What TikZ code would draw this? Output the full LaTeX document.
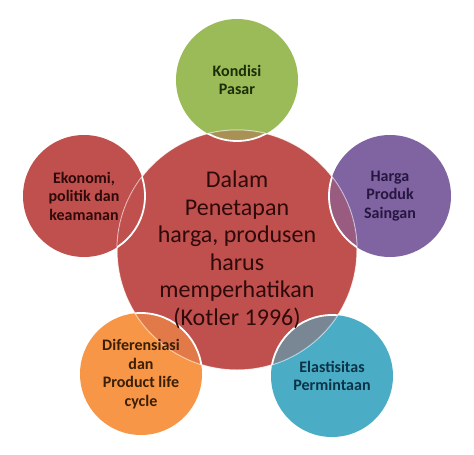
\documentclass[tikz,border=0pt]{standalone}
\usepackage{fontspec}
\setmainfont{Carlito}
\usetikzlibrary{positioning}
\pgfdeclarelayer{background}
\pgfsetlayers{background,main}

\definecolor{hubred}{HTML}{C0504D}
\definecolor{leafgreen}{HTML}{9BBB59}
\definecolor{leafpurple}{HTML}{8064A2}
\definecolor{leafblue}{HTML}{4BACC6}
\definecolor{leaforange}{HTML}{F79646}
\definecolor{hubtext}{HTML}{2E0A0A}
\definecolor{greentext}{HTML}{1C2E08}
\definecolor{purpletext}{HTML}{261640}
\definecolor{bluetext}{HTML}{0C3346}
\definecolor{orangetext}{HTML}{3A1E05}

\begin{document}
\begin{tikzpicture}[x=1pt,y=-1pt,on grid,node distance=170pt,
    hub/.style={circle,minimum size=240pt,inner sep=0pt,align=center,
      font=\fontsize{24}{27.5}\selectfont,text=hubtext},
    leaf/.style={circle,minimum size=122pt,inner sep=0pt,align=center,
      font=\bfseries\fontsize{16}{18.5}\selectfont}]
   \useasboundingbox (0,0) rectangle (474,455);
   \node[hub] (s_0) at (237,250) {Dalam\\Penetapan\\harga, produsen\\harus\\memperhatikan\\(Kotler 1996)};
   \node[leaf,text=greentext] (s_1) [above=of s_0] {Kondisi\\Pasar};
   \node[leaf,text=purpletext] (s_2) [above right=54pt and 153pt of s_0] {Harga\\Produk\\Saingan};
   \node[leaf,text=bluetext] (s_3) [below right=126pt and 95pt of s_0] {Elastisitas\\Permintaan};
   \node[leaf,text=orangetext] (s_4) [below left=124pt and 96pt of s_0] {Diferensiasi\\dan\\Product life\\cycle};
   \node[leaf,text=hubtext] (s_5) [above left=54pt and 153pt of s_0] {Ekonomi,\\politik dan\\keamanan};
   \begin{pgfonlayer}{background}
     \foreach \s/\c in {s_1/leafgreen,s_2/leafpurple,s_3/leafblue,s_4/leaforange,s_5/hubred}
       \fill[\c] (\s.center) circle (61pt);
     \fill[hubred] (s_0.center) circle (120pt);
     \draw[white,line width=1pt,opacity=.8] (s_0.center) circle (120pt);
     \clip (s_0.center) circle (120pt);
     \foreach \s/\c in {s_1/leafgreen,s_2/leafpurple,s_3/leafblue,s_4/leaforange,s_5/hubred}
       \fill[\c,opacity=.6] (\s.center) circle (61pt);
     \foreach \s in {s_1,s_2,s_3,s_4,s_5}
       \draw[white,line width=1.8pt] (\s.center) circle (61pt);
   \end{pgfonlayer}
\end{tikzpicture}
\end{document}
